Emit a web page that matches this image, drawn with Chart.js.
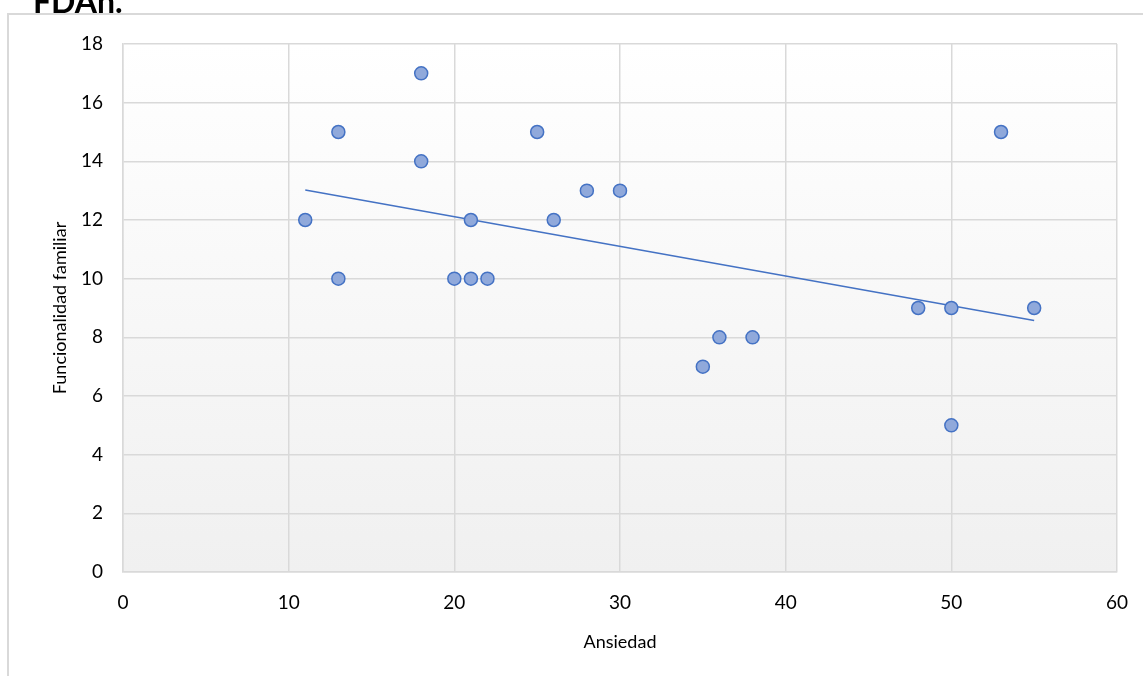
<!DOCTYPE html>
<html>
<head>
<meta charset="utf-8">
<script src="https://cdn.jsdelivr.net/npm/chart.js@4/dist/chart.umd.min.js"></script>
<style>
  html, body { margin: 0; padding: 0; background: #fff; }
  #wrap { width: 1143px; height: 676px; position: relative; }
</style>
</head>
<body>
<div id="wrap"><canvas id="ScatterChart"></canvas></div>
<script>
// data block
const ansiedad = [11, 13, 13, 18, 18, 20, 21, 21, 22, 25, 26, 28, 30, 35, 36, 38, 48, 50, 50, 53, 55];
const funcionalidad = [12, 15, 10, 17, 14, 10, 12, 10, 10, 15, 12, 13, 13, 7, 8, 8, 9, 9, 5, 15, 9];
const chartTitle = 'FDAh.';
const xTitle = 'Ansiedad';
const yTitle = 'Funcionalidad familiar';

const points = ansiedad.map((x, i) => ({ x: x, y: funcionalidad[i] }));

// least squares trend line over the data range
const n = ansiedad.length;
const mx = ansiedad.reduce((a, b) => a + b, 0) / n;
const my = funcionalidad.reduce((a, b) => a + b, 0) / n;
let sxy = 0, sxx = 0;
ansiedad.forEach((x, i) => {
    sxy += (x - mx) * (funcionalidad[i] - my);
    sxx += (x - mx) * (x - mx);
});
const slope = sxy / sxx;
const intercept = my - slope * mx;
const xMin = Math.min(...ansiedad);
const xMax = Math.max(...ansiedad);
const trend = [
    { x: xMin, y: intercept + slope * xMin },
    { x: xMax, y: intercept + slope * xMax }
];

const gridColor = '#d9d9d9';
const fontFamily = 'Lato, "Open Sans", sans-serif';

// background + frame + cut off title
const decorPlugin = {
    id: 'decor',
    beforeDraw(chart) {
        const { ctx, chartArea } = chart;
        ctx.save();
        ctx.strokeStyle = gridColor;
        ctx.lineWidth = 2;
        ctx.beginPath();
        ctx.moveTo(8, chart.height + 5);
        ctx.lineTo(8, 14);
        ctx.lineTo(chart.width + 5, 14);
        ctx.stroke();

        const g = ctx.createLinearGradient(0, chartArea.top, 0, chartArea.bottom);
        g.addColorStop(0, '#ffffff');
        g.addColorStop(1, '#f0f0f0');
        ctx.fillStyle = g;
        ctx.fillRect(chartArea.left, chartArea.top, chartArea.right - chartArea.left, chartArea.bottom - chartArea.top);

        ctx.fillStyle = '#000';
        ctx.font = 'bold 32px ' + fontFamily;
        ctx.textBaseline = 'alphabetic';
        ctx.fillText(chartTitle, 33, 13);
        ctx.restore();
    }
};

const data = {
    datasets: [
        {
            type: 'line',
            data: trend,
            borderColor: '#4472c4',
            borderWidth: 1.5,
            pointRadius: 0,
            fill: false,
            order: 2
        },
        {
            type: 'scatter',
            data: points,
            backgroundColor: '#90a9db',
            borderColor: '#4472c4',
            borderWidth: 1.5,
            pointRadius: 6.5,
            order: 1
        }
    ]
};

const config = {
    type: 'scatter',
    data,
    options: {
        responsive: true,
        maintainAspectRatio: false,
        animation: false,
        layout: {
            padding: { top: 44, right: 26, bottom: 0, left: 0 }
        },
        scales: {
            x: {
                type: 'linear',
                min: 0,
                max: 60,
                ticks: {
                    stepSize: 10,
                    padding: 19,
                    color: '#000',
                    font: { family: fontFamily, size: 19 }
                },
                grid: { color: gridColor, lineWidth: 1.5, drawTicks: false },
                border: { display: true, color: gridColor, width: 1.5 },
                title: {
                    display: true,
                    text: xTitle,
                    color: '#000',
                    font: { family: fontFamily, size: 18 },
                    padding: { top: 0, bottom: 23 }
                },
                afterFit: scale => {
                    scale.height = 104;
                    scale.paddingLeft = 0;
                    scale.paddingRight = 0;
                }
            },
            y: {
                min: 0,
                max: 18,
                ticks: {
                    stepSize: 2,
                    padding: 20,
                    color: '#000',
                    font: { family: fontFamily, size: 19 }
                },
                grid: { color: gridColor, lineWidth: 1.5, drawTicks: false },
                border: { display: true, color: gridColor, width: 1.5 },
                title: {
                    display: true,
                    text: yTitle,
                    color: '#000',
                    font: { family: fontFamily, size: 18 },
                    padding: { top: 49, bottom: 0 }
                },
                afterFit: scale => { scale.width = 123; }
            }
        },
        plugins: {
            legend: { display: false },
            tooltip: { enabled: false }
        }
    },
    plugins: [decorPlugin]
};

const chart = new Chart(document.getElementById('ScatterChart'), config);
</script>
</body>
</html>
